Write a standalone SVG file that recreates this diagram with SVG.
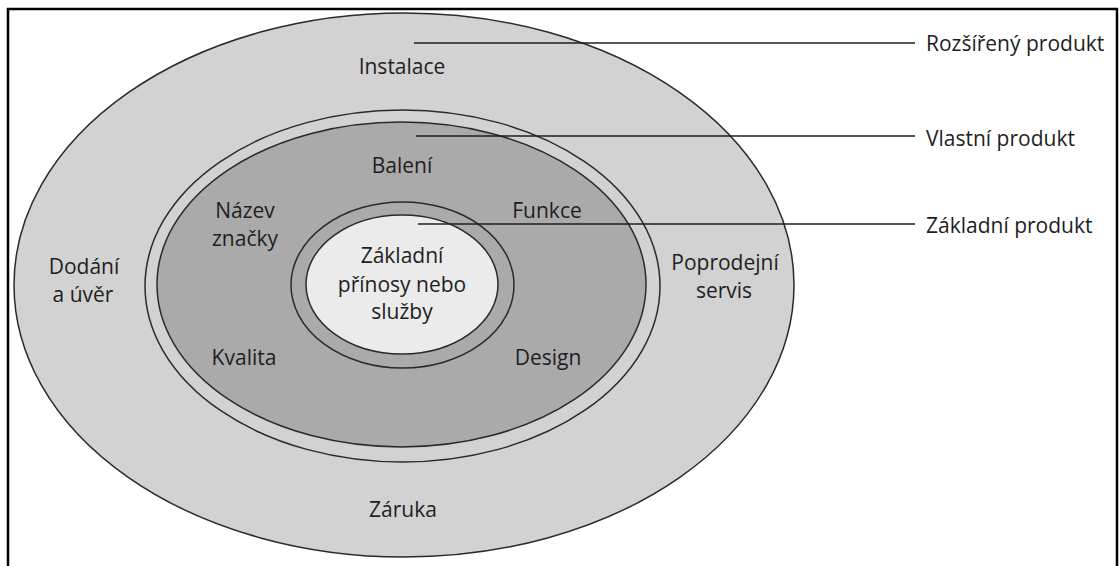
<svg xmlns="http://www.w3.org/2000/svg" width="1119" height="566" viewBox="0 0 1119 566">
<style>
.ring{stroke:#2a2a2a;stroke-width:1.5}
.light{fill:#d2d2d2}
.dark{fill:#aaaaaa}
.core{fill:#ebebeb}
.t{font-family:"Open Sans","Noto Sans",sans-serif;font-size:21px;fill:#1e1e1e;text-anchor:middle}
.lbl{font-family:"Open Sans","Noto Sans",sans-serif;font-size:21px;fill:#1e1e1e}
.conn{stroke:#1e1e1e;stroke-width:1.6;fill:none}
</style>
<rect x="0" y="0" width="1119" height="566" fill="#ffffff"/>
<path d="M8 566 V9 H1117 V566" fill="none" stroke="#000" stroke-width="2.5"/>
<g id="rozsireny">
<ellipse class="ring light" cx="404" cy="285" rx="390" ry="272"/>
<text class="t" x="402" y="74">Instalace</text>
<text class="t" x="84" y="274">Dodání</text>
<text class="t" x="83" y="302">a úvěr</text>
<text class="t" x="725" y="270">Poprodejní</text>
<text class="t" x="724" y="298">servis</text>
<text class="t" x="403" y="517">Záruka</text>
</g>
<g id="vlastni">
<ellipse class="ring light" cx="402.5" cy="286" rx="257.5" ry="176"/>
<ellipse class="ring dark" cx="401.5" cy="284.5" rx="244.5" ry="162.5"/>
<text class="t" x="402" y="173">Balení</text>
<text class="t" x="245" y="218">Název</text>
<text class="t" x="245" y="246">značky</text>
<text class="t" x="547" y="218">Funkce</text>
<text class="t" x="244" y="365">Kvalita</text>
<text class="t" x="548" y="365">Design</text>
</g>
<g id="zakladni">
<ellipse class="ring dark" cx="402.5" cy="285" rx="111.5" ry="83"/>
<ellipse class="ring core" cx="402" cy="284.5" rx="96" ry="69.5"/>
<text class="t" x="402" y="263">Základní</text>
<text class="t" x="402" y="292">přínosy nebo</text>
<text class="t" x="402" y="319">služby</text>
</g>
<g id="connectors">
<path class="conn" d="M414 43 H915"/>
<path class="conn" d="M416 136 H915"/>
<path class="conn" d="M418 224 H915"/>
</g>
<g id="label-rozsireny"><text class="lbl" x="926" y="51">Rozšířený produkt</text></g>
<g id="label-vlastni"><text class="lbl" x="926" y="146">Vlastní produkt</text></g>
<g id="label-zakladni"><text class="lbl" x="926" y="233">Základní produkt</text></g>
</svg>
